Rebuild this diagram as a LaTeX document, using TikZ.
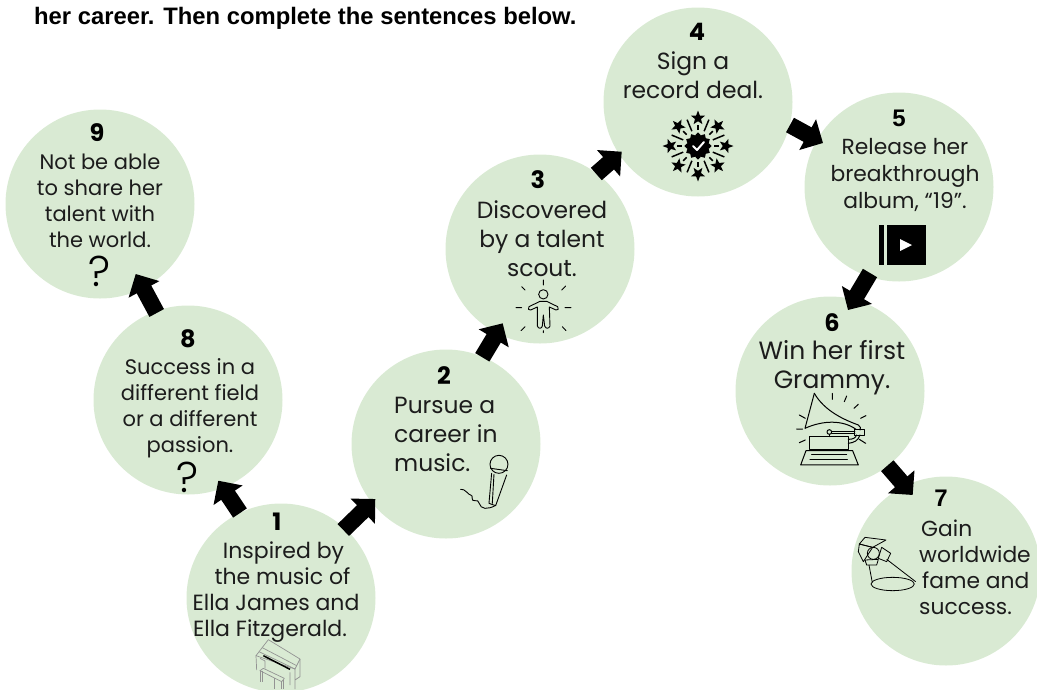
\documentclass[tikz,border=0pt]{standalone}
\usepackage{fontspec}
\setmainfont{Poppins}
\newfontfamily\headfont{Liberation Sans}
\newfontfamily\qfont{Poppins Light}
\usetikzlibrary{arrows.meta,calc}
\definecolor{circlegreen}{HTML}{D9EAD3}
\definecolor{inktext}{HTML}{1C1C1C}
\tikzset{
  x=1pt,y=-1pt,
  disc/.style={circle,fill=circlegreen,minimum size=189pt,inner sep=0pt},
  numlabel/.style={inner sep=0pt,font=\fontsize{24}{24}\selectfont\bfseries,text=black},
  numalt/.style={inner sep=0pt,font=\headfont\fontsize{24}{24}\selectfont\bfseries,text=black},
  smalltext/.style={inner sep=0pt,align=center,text=inktext},
  bigtext/.style={inner sep=0pt,align=center,text=inktext,font=\fontsize{23.4}{29}\selectfont},
  blockarrow/.style={line width=16.5pt,-{Triangle[length=17.5pt,width=34pt]},black},
  icon/.style={line width=1pt,black,line cap=round,line join=round},
  qmark/.style={inner sep=0pt,text=black,font=\qfont\fontsize{43}{43}\selectfont},
}
\begin{document}
\begin{tikzpicture}
\path[use as bounding box] (0,0) rectangle (1037,689);
\clip (0,0) rectangle (1037,689);
% discs
\node[disc] (n1) at (281,598) {};
\node[disc] (n2) at (446,444) {};
\node[disc] (n3) at (540,249) {};
\node[disc] (n4) at (698,102) {};
\node[disc] (n5) at (899,187) {};
\node[disc] (n6) at (830,391) {};
\node[disc] (n7) at (946,571) {};
\node[disc] (n8) at (188,400) {};
\node[disc] (n9) at (100,204) {};
% connectors
\draw[blockarrow] ($(n1)+(62.3,-68)$) -- ($(n2)+(-70.7,55)$);
\draw[blockarrow] ($(n1)+(-41,-85)$) -- ($(n8)+(30.3,80.7)$);
\draw[blockarrow] ($(n8)+(-31.3,-87)$) -- ($(n9)+(35.7,70)$);
\draw[blockarrow] ($(n2)+(36.3,-86.7)$) -- ($(n3)+(-37.3,74.3)$);
\draw[blockarrow] ($(n3)+(56.3,-75)$) -- ($(n4)+(-76.3,49.7)$);
\draw[blockarrow] ($(n4)+(92,23)$) -- ($(n5)+(-76,-44)$);
\draw[blockarrow] ($(n5)+(-29,86)$) -- ($(n6)+(18,-81)$);
\draw[blockarrow] ($(n6)+(57.3,74.7)$) -- ($(n7)+(-33.3,-76)$);
% heading
\node[anchor=west,inner sep=0pt,text=black,font=\headfont\fontsize{23.8}{24}\selectfont\bfseries] (head) at (34,18) {her career. Then complete the sentences below.};
% numbers
\node[numlabel] (k1) at (277,522) {1};
\node[numlabel] (k2) at (444,376) {2};
\node[numlabel] (k3) at (538,180) {3};
\node[numlabel] (k4) at (697,32) {4};
\node[numalt] (k5) at (899,118) {5};
\node[numlabel] (k6) at (832,323) {6};
\node[numalt] (k7) at (941,498) {7};
\node[numlabel] (k8) at (188,339) {8};
\node[numlabel] (k9) at (97,133) {9};
% texts
\node[smalltext,font=\fontsize{22}{26}\selectfont] (t1) at (276,592.5) {\hspace*{15pt}Inspired by\\\hspace*{13pt}the music of\\Ella James and\\Ella Fitzgerald.\hspace*{12pt}};
\node[bigtext,align=left,anchor=north west] (t2) at (394,397) {Pursue a\\career in\\music.};
\node[bigtext] (t3) at (542,239) {Discovered\\by a talent\\scout.};
\node[bigtext] (t4) at (693,75) {Sign a\\record deal.};
\node[smalltext,font=\fontsize{21.8}{27}\selectfont] (t5) at (905,174.5) {Release her\\breakthrough\\album, “19”.};
\node[bigtext,font=\fontsize{25}{29}\selectfont] (t6) at (832,368) {Win her first\\Grammy.};
\node[smalltext,align=left,anchor=north west,font=\fontsize{21.8}{26}\selectfont] (t7) at (919,520) {\hspace*{2pt}Gain\\worldwide\\\hspace*{3pt}fame and\\success.};
\node[smalltext,font=\fontsize{21}{26}\selectfont] (t8) at (190,408) {Success in a\\different field\\or a different\\passion.};
\node[smalltext,font=\fontsize{21}{26}\selectfont] (t9) at (100,201) {Not be able\\to share her\\talent with\\the world.};
\node[qmark] (q8) at (188,477) {?};
\node[qmark] (q9) at (100,271) {?};
% badge icon
\begin{scope}[shift={(698,146)}]
  \fill[black] plot[smooth cycle,samples at={0,15,...,345}] ({\x}:{12.3+1.3*cos(12*\x)});
  \draw[white,line width=2pt,line cap=round,line join=round] (-5,0) -- (-1,4) -- (6,-4);
  \foreach \a in {0,45,...,315}{
    \begin{scope}[rotate=\a]
      \draw[black,line width=1.5pt] (0,-16) -- (0,-21);
      \begin{scope}[rotate=22.5]
        \draw[black,line width=1.5pt] (0,-16) -- (0,-28.5);
      \end{scope}
      \fill[black,shift={(0,-28)},scale=1.25] (0,-6)--(1.5,-2)--(5.7,-1.9)--(2.4,.8)--(3.5,4.9)--(0,2.6)--(-3.5,4.9)--(-2.4,.8)--(-5.7,-1.9)--(-1.5,-2)--cycle;
    \end{scope}
  }
\end{scope}
% play icon
\fill[black] (879,225) rectangle (884.3,265);
\fill[black] (887.3,225) rectangle (926,265);
\fill[white] (900,239) -- (912,245) -- (900,251) -- cycle;
% gramophone
\begin{scope}[shift={(730,370)},x=.3333pt,y=-.3333pt,icon]
  \draw (253,70) .. controls (285,125) and (345,150) .. (385,165) .. controls (392,170) and (393,175) .. (390,180);
  \draw (253,70) -- (225,175) .. controls (280,150) and (340,150) .. (378,178);
  \draw (375,178) rectangle (405,195);
  \draw (305,183) -- (375,183) (305,190) -- (375,190);
  \draw (298,186) circle (7);
  \draw (298,193) -- (298,200);
  \draw (240,200) rectangle (355,240);
  \draw (228,242) -- (368,242) -- (385,285) -- (212,285) -- cycle;
  \draw (245,255) -- (350,255) (240,268) -- (352,268);
  \draw (390,195) .. controls (385,212) and (372,218) .. (355,220);
  \draw (380,195) .. controls (376,205) and (368,208) .. (355,208);
  \draw (307,70)--(307,88) (350,78)--(343,95) (385,103)--(372,115) (408,137)--(392,145);
  \draw (208,135)--(226,145) (200,177)--(218,177) (208,218)--(226,210) (388,208)--(407,220);
\end{scope}
% spotlight
\begin{scope}[shift={(850,530)},x=.3333pt,y=-.3333pt,line width=.8pt,black,line join=round]
  \draw (128,162) ellipse (65 and 20);
  \draw (57,105)--(67,158) (110,88)--(197,155);
  \draw (28,42)--(45,22)--(108,30)--(68,52)--cycle;
  \draw (28,42)--(68,52)--(40,95)--(25,65)--cycle;
  \draw (70,70) circle (18);
  \draw (95,52)--(122,70)--(110,95)--(85,85)--cycle;
  \draw (45,90)--(85,88)--(80,105)--(50,105)--cycle;
\end{scope}
% microphone
\begin{scope}[shift={(230,440)},x=.3333pt,y=-.3333pt,icon,line width=.9pt]
  \draw (807,73) circle (27);
  \draw (782,85) -- (832,92);
  \draw (785,100) -- (777,190) -- (797,197) -- (830,105);
  \draw (792,103) -- (787,190);
  \draw (692,148) .. controls (705,145) and (715,165) .. (722,165) .. controls (732,165) and (720,185) .. (735,182) .. controls (750,175) and (745,205) .. (765,205) .. controls (775,205) and (785,203) .. (795,197);
\end{scope}
% person
\begin{scope}[shift={(480,260)},x=.3333pt,y=-.3333pt,icon,line width=.9pt]
  \draw (190,103) circle (14);
  \draw (180,124) -- (147,140) .. controls (142,146) and (146,152) .. (152,150) -- (172,141) -- (172,198) .. controls (175,207) and (185,207) .. (187,198) -- (190,165) -- (194,198) .. controls (197,207) and (207,207) .. (210,198) -- (208,141) -- (228,150) .. controls (234,152) and (238,146) .. (233,140) -- (200,124) -- cycle;
  \draw (190,60)--(190,75) (125,80)--(135,90) (245,90)--(257,78) (108,143)--(125,143) (255,143)--(273,143) (123,212)--(135,200) (247,200)--(258,212) (190,212)--(190,218);
\end{scope}
% piano
\begin{scope}[shift={(245,635)},x=.3333pt,y=-.3333pt,line width=.7pt,gray!85,line join=round]
  \draw (33,62)--(70,14)--(165,72)--(150,102)--cycle;
  \draw (42,50)--(150,102) (52,38)--(155,92);
  \draw (33,62)--(35,105) (150,102)--(150,162) (165,72)--(165,125)--(150,135);
  \draw (45,70)--(60,78)--(60,100) (135,112)--(135,150);
  \draw (45,107)--(55,100)--(118,130)--(110,140)--cycle;
  \draw (45,107)--(45,140) (52,107)--(52,140) (88,130)--(88,162) (110,140)--(110,162) (116,135)--(116,162);
  \draw[black,line width=1.5pt] (55,62)--(135,103);
\end{scope}
\end{tikzpicture}
\end{document}
